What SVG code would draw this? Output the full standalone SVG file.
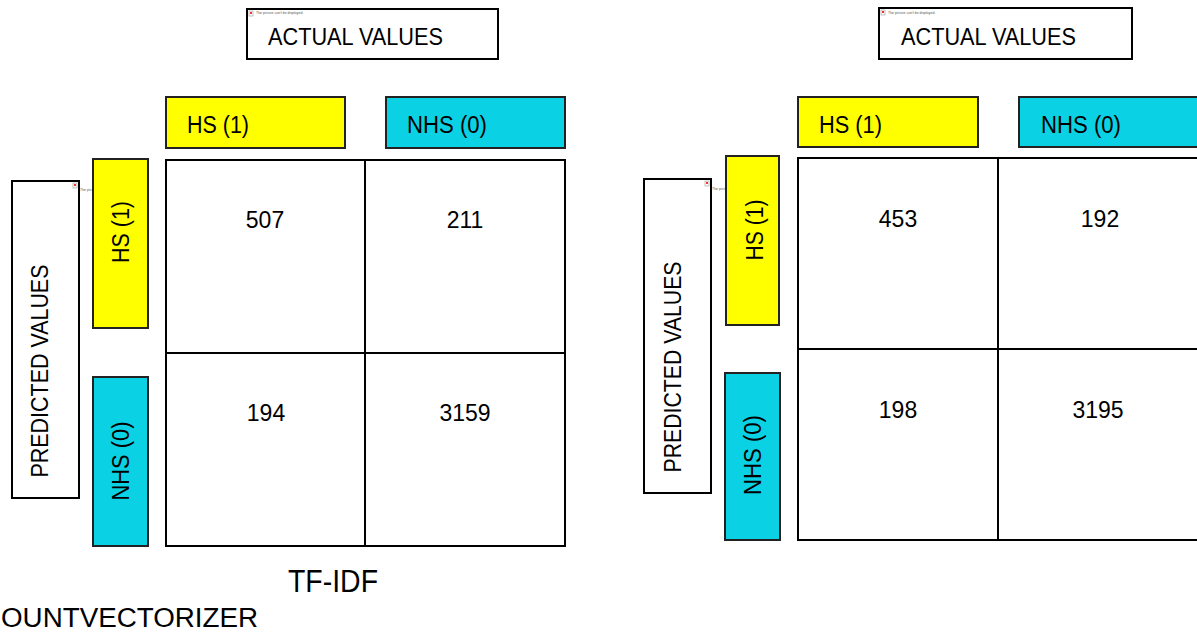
<svg xmlns="http://www.w3.org/2000/svg" width="1197" height="634" viewBox="0 0 1197 634">
<style>
.box{fill:#fff;stroke:#000;stroke-width:2}
.hs{fill:#ffff00;stroke:#222;stroke-width:2}
.nhs{fill:#0ad2e4;stroke:#222;stroke-width:2}
.cell{fill:#fff;stroke:#000;stroke-width:2}
.t{font-family:"Liberation Sans",Arial,sans-serif;font-size:23px;fill:#000}
.num{font-family:"Liberation Sans",Arial,sans-serif;font-size:23px;fill:#000;text-anchor:middle}
.big{font-family:"Liberation Sans",Arial,sans-serif;font-size:31px;fill:#000}
.tiny{font-family:"Liberation Sans",Arial,sans-serif;font-size:3.5px;fill:#555}
.ico{fill:#fff;stroke:#999;stroke-width:0.6}
.icr{fill:#e33}
</style>
<rect width="1197" height="634" fill="#fff"/>

<!-- LEFT MATRIX (TF-IDF) -->
<g id="left-actual">
<rect class="box" x="247" y="9" width="251" height="50"/>
<rect class="ico" x="249" y="11" width="4" height="5"/><rect class="icr" x="250" y="12" width="2" height="2"/>
<text class="tiny" x="256" y="14">The picture can't be displayed.</text>
<text class="t" x="268" y="45" textLength="175" lengthAdjust="spacingAndGlyphs">ACTUAL VALUES</text>
</g>
<g id="left-predicted">
<rect class="box" x="12" y="181" width="67" height="317"/>
<rect class="ico" x="73" y="183" width="4" height="5"/><rect class="icr" x="74" y="184" width="2" height="2"/>
<text class="tiny" x="80" y="191">The picture can't be displayed.</text>
<text class="t" transform="translate(40,371) rotate(-90)" x="0" y="8" text-anchor="middle" textLength="213" lengthAdjust="spacingAndGlyphs">PREDICTED VALUES</text>
</g>
<g id="left-col-hs">
<rect class="hs" x="166" y="97" width="179" height="51"/>
<text class="t" x="187" y="133" textLength="62" lengthAdjust="spacingAndGlyphs">HS (1)</text>
</g>
<g id="left-col-nhs">
<rect class="nhs" x="386" y="97" width="179" height="51"/>
<text class="t" x="407" y="133" textLength="80" lengthAdjust="spacingAndGlyphs">NHS (0)</text>
</g>
<g id="left-row-hs">
<rect class="hs" x="93" y="159" width="55" height="169"/>
<text class="t" transform="translate(121,232) rotate(-90)" x="0" y="8" text-anchor="middle" textLength="62" lengthAdjust="spacingAndGlyphs">HS (1)</text>
</g>
<g id="left-row-nhs">
<rect class="nhs" x="93" y="377" width="55" height="169"/>
<text class="t" transform="translate(121,461) rotate(-90)" x="0" y="8" text-anchor="middle" textLength="79" lengthAdjust="spacingAndGlyphs">NHS (0)</text>
</g>
<g id="left-tp"><rect class="cell" x="166" y="160" width="199" height="193"/><text class="num" x="265" y="228">507</text></g>
<g id="left-fp"><rect class="cell" x="365" y="160" width="200" height="193"/><text class="num" x="465" y="228">211</text></g>
<g id="left-fn"><rect class="cell" x="166" y="353" width="199" height="193"/><text class="num" x="266" y="421">194</text></g>
<g id="left-tn"><rect class="cell" x="365" y="353" width="200" height="193"/><text class="num" x="465" y="421">3159</text></g>
<g id="left-title"><text class="big" x="288" y="592" textLength="90" lengthAdjust="spacingAndGlyphs">TF-IDF</text></g>
<g id="bottom-title"><text class="big" x="1" y="627" style="font-size:27px" textLength="257" lengthAdjust="spacingAndGlyphs">OUNTVECTORIZER</text></g>

<!-- RIGHT MATRIX -->
<g id="right-actual">
<rect class="box" x="879" y="8" width="253" height="51"/>
<rect class="ico" x="881" y="10" width="4" height="5"/><rect class="icr" x="882" y="11" width="2" height="2"/>
<text class="tiny" x="888" y="14">The picture can't be displayed.</text>
<text class="t" x="901" y="45" textLength="175" lengthAdjust="spacingAndGlyphs">ACTUAL VALUES</text>
</g>
<g id="right-predicted">
<rect class="box" x="644" y="179" width="67" height="314"/>
<rect class="ico" x="705" y="181" width="4" height="5"/><rect class="icr" x="706" y="182" width="2" height="2"/>
<text class="tiny" x="712" y="190">The picture can't be displayed.</text>
<text class="t" transform="translate(673,367) rotate(-90)" x="0" y="8" text-anchor="middle" textLength="211" lengthAdjust="spacingAndGlyphs">PREDICTED VALUES</text>
</g>
<g id="right-col-hs">
<rect class="hs" x="798" y="97" width="180" height="50"/>
<text class="t" x="819" y="133" textLength="63" lengthAdjust="spacingAndGlyphs">HS (1)</text>
</g>
<g id="right-col-nhs">
<rect class="nhs" x="1019" y="97" width="190" height="50"/>
<text class="t" x="1041" y="133" textLength="80" lengthAdjust="spacingAndGlyphs">NHS (0)</text>
</g>
<g id="right-row-hs">
<rect class="hs" x="726" y="156" width="53" height="169"/>
<text class="t" transform="translate(755,230) rotate(-90)" x="0" y="8" text-anchor="middle" textLength="61" lengthAdjust="spacingAndGlyphs">HS (1)</text>
</g>
<g id="right-row-nhs">
<rect class="nhs" x="725" y="373" width="55" height="167"/>
<text class="t" transform="translate(753,455) rotate(-90)" x="0" y="8" text-anchor="middle" textLength="80" lengthAdjust="spacingAndGlyphs">NHS (0)</text>
</g>
<g id="right-tp"><rect class="cell" x="798" y="158" width="200" height="191"/><text class="num" x="898" y="227">453</text></g>
<g id="right-fp"><rect class="cell" x="998" y="158" width="210" height="191"/><text class="num" x="1100" y="227">192</text></g>
<g id="right-fn"><rect class="cell" x="798" y="349" width="200" height="191"/><text class="num" x="898" y="418">198</text></g>
<g id="right-tn"><rect class="cell" x="998" y="349" width="210" height="191"/><text class="num" x="1098" y="418">3195</text></g>

<g id="connectors"></g>
</svg>
